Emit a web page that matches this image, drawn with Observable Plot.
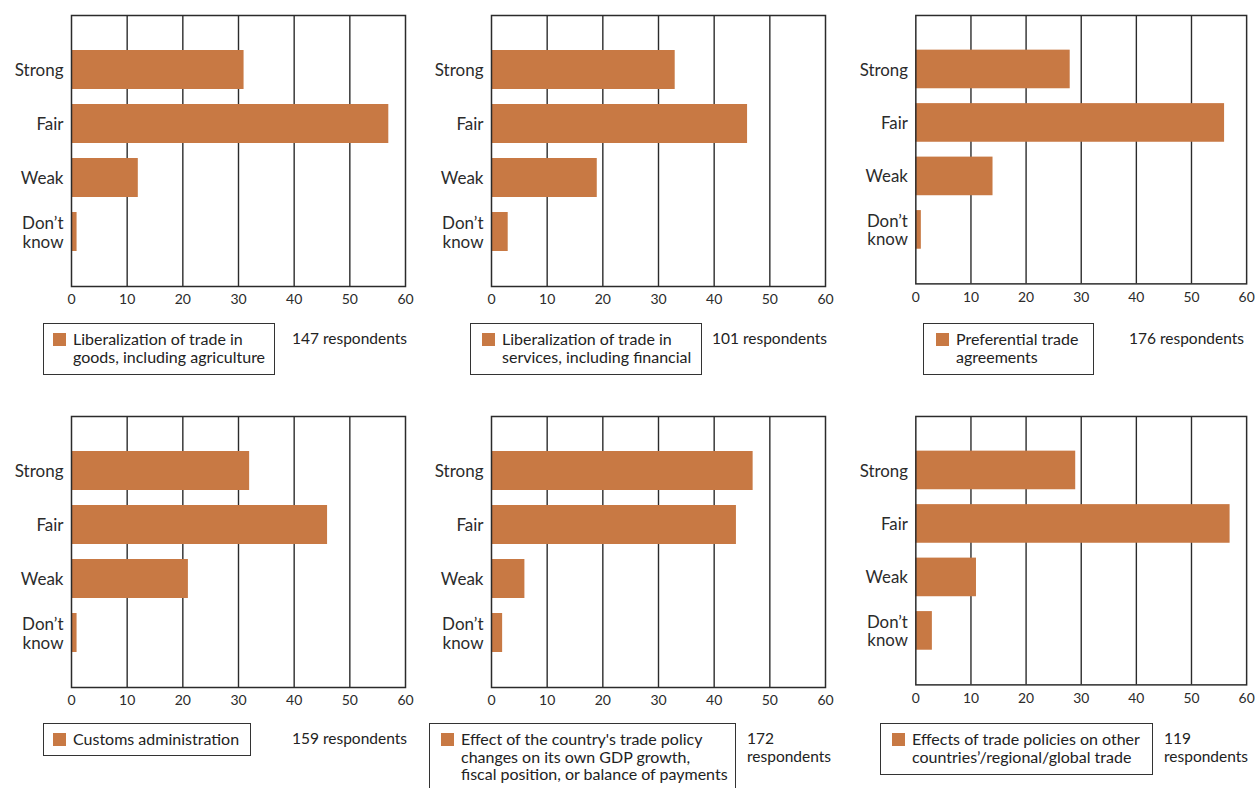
<!DOCTYPE html>
<html>
<head>
<meta charset="utf-8">
<script src="https://cdn.jsdelivr.net/npm/d3@7"></script>
<script src="https://cdn.jsdelivr.net/npm/@observablehq/plot@0.6"></script>
<style>
  html, body { margin: 0; padding: 0; background: #fff; }
  #root { position: relative; width: 1260px; height: 788px; overflow: hidden; font-family: Lato, "Open Sans", sans-serif; color: #222; }
  .panel { position: absolute; }
  .legend { position: absolute; border: 1.5px solid #333; box-sizing: border-box; background: #fff; }
  .swatch { position: absolute; width: 13px; height: 13px; background: #c87944; }
  .ltext { position: absolute; white-space: pre; font-size: 16px; line-height: 17.5px; }
  .resp { position: absolute; font-size: 15.5px; line-height: 17.5px; white-space: pre; }
</style>
</head>
<body>
<div id="root"></div>
<script>
// ---- Data ----
const categories = ["Strong", "Fair", "Weak", "Don’t know"];
const policyAreas = [
  "Liberalization of trade in\ngoods, including agriculture",
  "Liberalization of trade in\nservices, including financial",
  "Preferential trade\nagreements",
  "Customs administration",
  "Effect of the country's trade policy\nchanges on its own GDP growth,\nfiscal position, or balance of payments",
  "Effects of trade policies on other\ncountries’/regional/global trade"
];
const respondentLabels = [
  "147 respondents",
  "101 respondents",
  "176 respondents",
  "159 respondents",
  "172\nrespondents",
  "119\nrespondents"
];
const strongValues   = [31, 33, 28, 32, 47, 29];
const fairValues     = [57, 46, 56, 46, 44, 57];
const weakValues     = [12, 19, 14, 21, 6, 11];
const dontKnowValues = [1, 3, 1, 1, 2, 3];
const xTicks = [0, 10, 20, 30, 40, 50, 60];

// ---- Layout ----
const colLeft = [71, 491, 916];
const rowTop = [15, 416];
const frameW = 334, frameH = 271;
const mL = 70, mR = 14, mT = 2, mB = 30;
const barColor = "#c87944";
const ink = "#2b2b2b";

// legend boxes: [left, top, width, height, swatchLeft, textLeft, respLeft]
const legendBoxes = [
  [43, 323, 232, 52, 53, 73, 292],
  [470, 323, 232, 52, 482, 502, 712],
  [923, 323, 171, 52, 936, 956, 1129],
  [43, 723, 208, 33, 53, 73, 292],
  [429, 723, 307, 75, 441, 461, 747],
  [880, 723, 273, 52, 892, 912, 1164]
];

const root = document.getElementById("root");

for (let i = 0; i < 6; i++) {
  const data = categories.map((c, k) => ({
    level: c,
    value: [strongValues, fairValues, weakValues, dontKnowValues][k][i]
  }));
  const col = i % 3, row = Math.floor(i / 3);
  const chart = Plot.plot({
    width: mL + frameW + mR,
    height: mT + frameH + mB,
    marginLeft: mL, marginRight: mR, marginTop: mT, marginBottom: mB,
    style: { fontFamily: "Lato, 'Open Sans', sans-serif", color: ink, background: "transparent", overflow: "visible" },
    x: { domain: [0, 60], ticks: xTicks },
    y: { domain: categories, paddingInner: 0.27, paddingOuter: 0.64 },
    marks: [
      Plot.ruleX(xTicks.slice(1, -1), { stroke: ink, strokeWidth: 1.4 }),
      Plot.barX(data, { x: "value", y: "level", fill: barColor }),
      Plot.frame({ stroke: ink, strokeWidth: 1.5 }),
      Plot.axisX({ ticks: xTicks, tickSize: 0, tickPadding: 8, label: null, fontSize: 14, tickFormat: d => String(d) }),
      Plot.axisY({ tickSize: 0, tickPadding: 8, label: null, fontSize: 17, lineHeight: 1.12,
        tickFormat: d => d === "Don’t know" ? "Don’t\nknow" : d })
    ]
  });
  const wrap = document.createElement("div");
  wrap.className = "panel";
  wrap.style.left = (colLeft[col] - mL) + "px";
  wrap.style.top = (rowTop[row] - mT) + "px";
  wrap.appendChild(chart);
  root.appendChild(wrap);

  const [bl, bt, bw, bh, sl, tl, rl] = legendBoxes[i];
  const box = document.createElement("div");
  box.className = "legend";
  box.style.left = bl + "px"; box.style.top = bt + "px";
  box.style.width = bw + "px"; box.style.height = bh + "px";
  root.appendChild(box);
  const sw = document.createElement("div");
  sw.className = "swatch";
  sw.style.left = sl + "px"; sw.style.top = (bt + 10) + "px";
  root.appendChild(sw);
  const tx = document.createElement("div");
  tx.className = "ltext";
  tx.style.left = tl + "px"; tx.style.top = (bt + 7) + "px";
  tx.textContent = policyAreas[i];
  root.appendChild(tx);
  const rs = document.createElement("div");
  rs.className = "resp";
  rs.style.left = rl + "px"; rs.style.top = (bt + 7) + "px";
  rs.textContent = respondentLabels[i];
  root.appendChild(rs);
}
</script>
</body>
</html>
